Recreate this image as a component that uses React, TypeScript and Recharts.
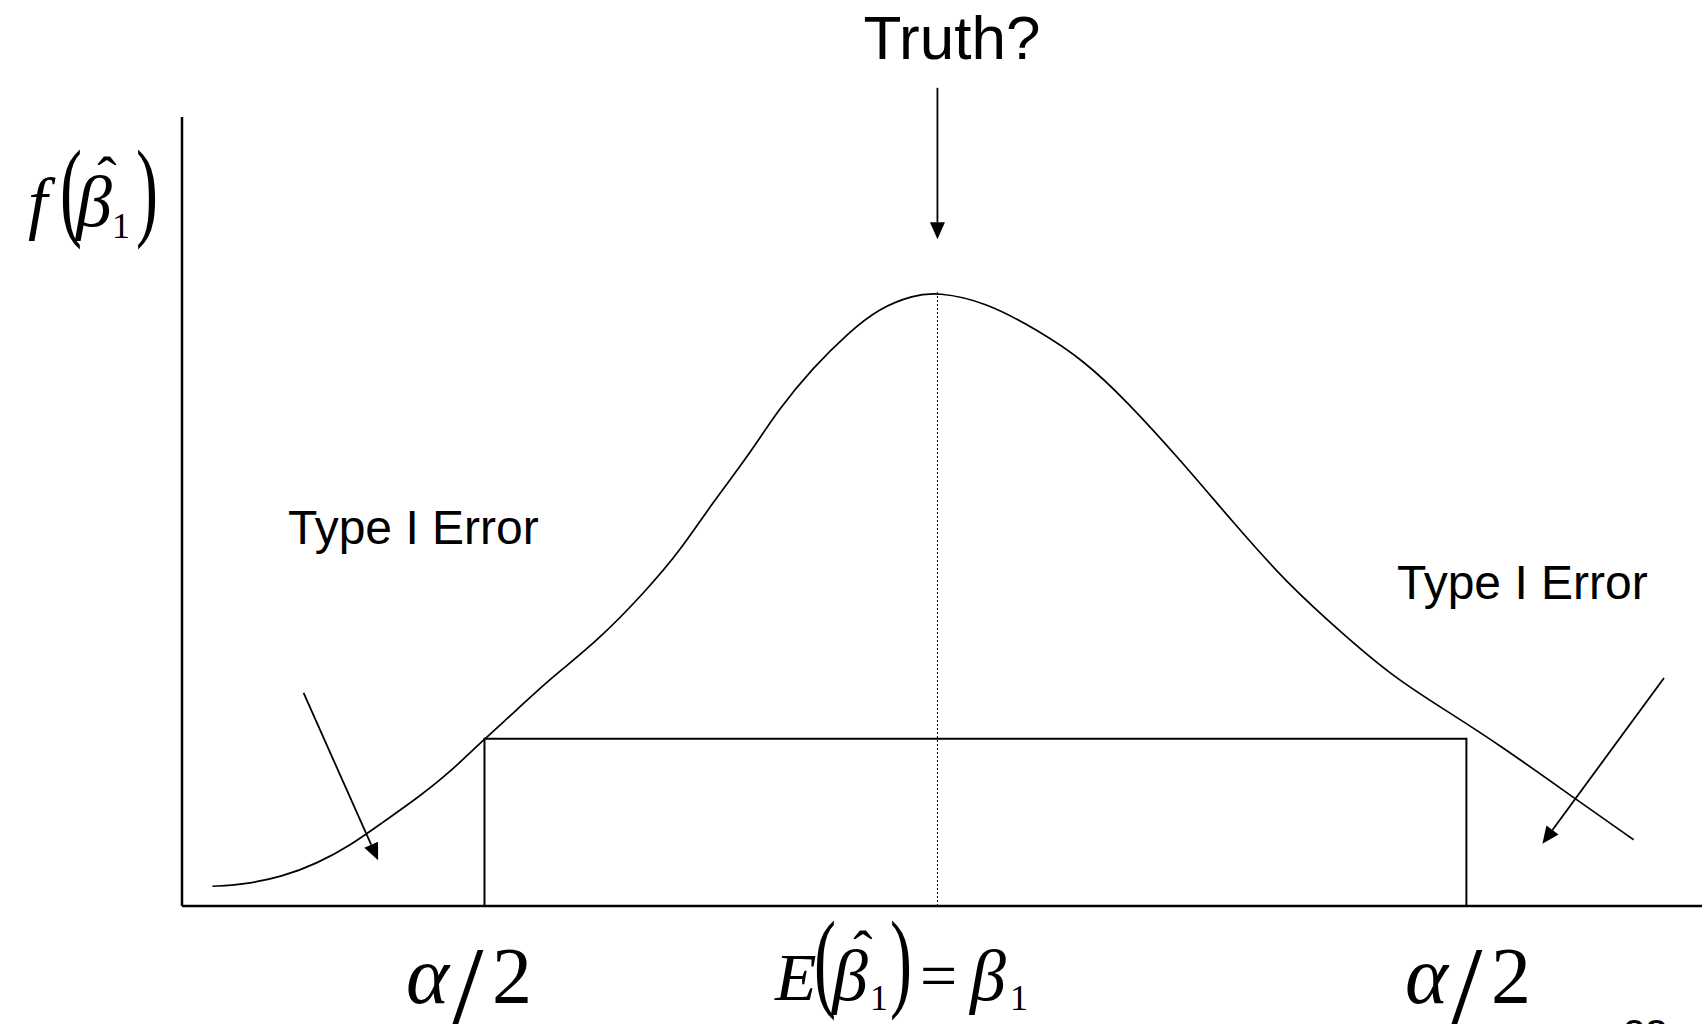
import React from "react"
import {
  LineChart,
  Line,
  XAxis,
  YAxis,
  ReferenceLine,
  ReferenceArea,
} from "recharts"

// ── Data ──────────────────────────────────────────────────────────────────────

// hand-drawn sampling density of beta-hat (x: 0..100 across the axis, y: 0..100 up the axis)
const curveX = [
  2.0, 4.0, 6.6, 8.9, 11.1, 13.2, 15.5, 17.6, 19.8, 22.0, 24.2, 27.3, 30.6, 32.8,
  34.9, 37.2, 39.3, 41.5, 43.8, 45.9, 48.1, 49.7, 52.8, 56.3, 59.3, 62.1, 65.7,
  69.2, 72.7, 76.3, 79.7, 83.3, 86.7, 91.8, 95.5,
]
const curveY = [
  2.5, 2.7, 3.7, 5.4, 7.7, 10.6, 13.7, 16.9, 21.0, 24.8, 28.8, 33.5, 40.1, 45.1,
  51.1, 56.9, 63.1, 68.2, 72.6, 75.8, 77.4, 77.8, 76.6, 73.0, 69.2, 64.1, 56.5,
  48.5, 40.9, 34.6, 29.0, 24.6, 20.4, 13.4, 8.4,
]

// axis extents
const xMax = 100
const yMax = 100

// mean of the estimator (peak) and the acceptance region
const meanX = 49.7
const peakY = 77.8
const acceptRegion = { from: 19.9, to: 84.5, height: 21.2 }

// arrows: [start, tip]
const truthArrow = [{ x: 49.7, y: 103.7 }, { x: 49.7, y: 84.5 }]
const leftErrArrow = [{ x: 8.0, y: 27.0 }, { x: 12.9, y: 5.8 }]
const rightErrArrow = [{ x: 97.5, y: 28.9 }, { x: 89.5, y: 7.9 }]

const density = curveX.map((x, i) => ({ x, y: curveY[i] }))

// ── Shapes ────────────────────────────────────────────────────────────────────

function Arrow(props: any) {
  const { x1, y1, x2, y2 } = props
  const dx = x2 - x1
  const dy = y2 - y1
  const len = Math.hypot(dx, dy) || 1
  const ux = dx / len
  const uy = dy / len
  const head = 17
  const half = 7.5
  const bx = x2 - ux * head
  const by = y2 - uy * head
  const px = -uy * half
  const py = ux * half
  return (
    <g>
      <line x1={x1} y1={y1} x2={bx} y2={by} stroke="#000" strokeWidth={1.8} />
      <polygon
        points={`${x2},${y2} ${bx + px},${by + py} ${bx - px},${by - py}`}
        fill="#000"
      />
    </g>
  )
}

const serif = "'Liberation Serif', 'Times New Roman', serif"
const sans = "'Liberation Sans', Arial, sans-serif"

function Paren({ x, y, ch }: { x: number; y: number; ch: string }) {
  return (
    <text
      transform={`translate(${x},${y}) scale(0.6,1)`}
      fontFamily={serif}
      fontSize={110}
    >
      {ch}
    </text>
  )
}

function HatBeta({ x, y, hat }: { x: number; y: number; hat?: boolean }) {
  return (
    <g fontFamily={serif}>
      <text x={x} y={y} fontSize={72} fontStyle="italic">β</text>
      {hat && (
        <text x={x + 31} y={y - 30} fontSize={58} textAnchor="middle">ˆ</text>
      )}
    </g>
  )
}

function AlphaHalf({ x }: { x: number }) {
  return (
    <g fontFamily={serif}>
      <text x={x} y={1003} fontSize={82} fontStyle="italic">α</text>
      <text x={x + 44} y={1030} fontSize={120}>/</text>
      <text x={x + 86} y={1003} fontSize={80}>2</text>
    </g>
  )
}

// ── Component ─────────────────────────────────────────────────────────────────

export default function App() {
  return (
    <div style={{ position: "absolute", left: 0, top: 0, width: 1702, height: 1024, background: "#fff" }}>
      <LineChart
        width={1702}
        height={1024}
        data={density}
        margin={{ top: 117, right: 0, bottom: 118, left: 182 }}
      >
        <XAxis type="number" dataKey="x" domain={[0, xMax]} hide />
        <YAxis type="number" domain={[0, yMax]} hide />
        {/* axes */}
        <ReferenceLine
          segment={[{ x: 0, y: 0 }, { x: 0, y: yMax }]}
          stroke="#000"
          strokeWidth={2.5}
          ifOverflow="visible"
        />
        <ReferenceLine
          segment={[{ x: 0, y: 0 }, { x: xMax, y: 0 }]}
          stroke="#000"
          strokeWidth={2.5}
          ifOverflow="visible"
        />
        <ReferenceArea
          x1={acceptRegion.from}
          x2={acceptRegion.to}
          y1={0}
          y2={acceptRegion.height}
          fill="none"
          fillOpacity={0}
          stroke="#000"
          strokeWidth={2}
          ifOverflow="visible"
        />
        <ReferenceLine
          segment={[{ x: meanX, y: 0 }, { x: meanX, y: peakY }]}
          stroke="#000"
          strokeWidth={1}
          strokeDasharray="2 2"
        />
        <Line
          type="basis"
          dataKey="y"
          stroke="#000"
          strokeWidth={1.7}
          dot={false}
          activeDot={false}
          isAnimationActive={false}
        />
        <ReferenceLine segment={truthArrow} ifOverflow="visible" shape={Arrow} />
        <ReferenceLine segment={leftErrArrow} ifOverflow="visible" shape={Arrow} />
        <ReferenceLine segment={rightErrArrow} ifOverflow="visible" shape={Arrow} />
      </LineChart>

      <svg
        width={1702}
        height={1024}
        style={{ position: "absolute", left: 0, top: 0, pointerEvents: "none" }}
      >
        <text x={952} y={59} fontFamily={sans} fontSize={62} textAnchor="middle">Truth?</text>
        <text x={288} y={544} fontFamily={sans} fontSize={48}>Type I Error</text>
        <text x={1397} y={599} fontFamily={sans} fontSize={48}>Type I Error</text>

        {/* f(beta-hat_1) */}
        <g fontFamily={serif}>
          <text x={28} y={226} fontSize={70} fontStyle="italic">f</text>
          <Paren x={60} y={226} ch="(" />
          <HatBeta x={76} y={226} hat />
          <text x={112} y={238} fontSize={36}>1</text>
          <Paren x={136} y={226} ch=")" />
        </g>

        {/* E(beta-hat_1) = beta_1 */}
        <g fontFamily={serif}>
          <text x={775} y={1000} fontSize={68} fontStyle="italic">E</text>
          <Paren x={814} y={997} ch="(" />
          <HatBeta x={832} y={1000} hat />
          <text x={870} y={1010} fontSize={36}>1</text>
          <Paren x={890} y={997} ch=")" />
          <text x={920} y={998} fontSize={66}>=</text>
          <HatBeta x={970} y={1000} />
          <text x={1010} y={1010} fontSize={36}>1</text>
        </g>

        <AlphaHalf x={406} />
        <AlphaHalf x={1405} />

        <text x={1623} y={1048} fontFamily={sans} fontSize={40}>23</text>
      </svg>
    </div>
  )
}
